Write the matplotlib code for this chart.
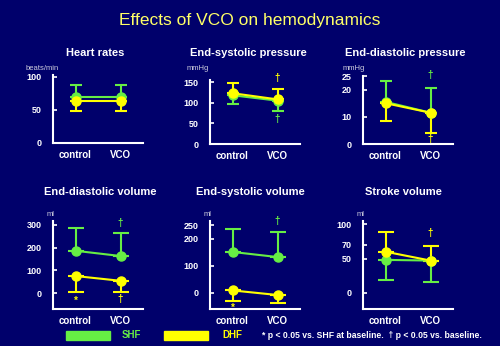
import matplotlib
matplotlib.use("Agg")
import matplotlib.pyplot as plt
import numpy as np

# ── Palette ──────────────────────────────────────────────────────────────────
C_BG     = "#00006b"
C_SHF    = "#66ee44"
C_DHF    = "#ffff00"
C_TITLE  = "#ffff66"
C_TEXT   = "white"
C_UNIT   = "#ccccdd"

plt.rcParams["font.family"] = ["Liberation Sans", "DejaVu Sans"]

W, H = 500, 346

# ── Data (mean, one-sided SD bar: + up / - down) ─────────────────────────────
groups = ["control", "VCO"]

titles = ["Heart rates", "End-systolic pressure", "End-diastolic pressure",
          "End-diastolic volume", "End-systolic volume", "Stroke volume"]
units  = ["beats/min", "mmHg", "mmHg", "ml", "ml", "ml"]

shf_mean = [[70, 70], [118, 105], [15.5, 11.5], [186, 163], [151, 132], [48, 47]]
shf_err  = [[18, 18], [-22, -24], [7.7, 9.0], [102, 102], [87, 94], [-30, -31]]
dhf_mean = [[63, 63], [123, 108], [15.0, 11.5], [75, 54], [8, -9], [60, 47]]
dhf_err  = [[-15, -14], [25, 24], [-6.5, -7.3], [-69, -48], [-39, -28], [29, 22]]

yticks = [[0, 50, 100], [0, 50, 100, 150], [0, 10, 20, 25],
          [0, 100, 200, 300], [0, 100, 200, 250], [0, 50, 70, 100]]
ylims  = [(0, 103), (0, 155), (0, 25), (-70, 317), (-61, 266), (-24, 105)]

# significance marks: (panel, group index, colour, symbol, y value)
marks = [
    (1, 1, C_DHF, "†", 160), (1, 1, C_SHF, "†", 60),
    (2, 1, C_SHF, "†", 25.5), (2, 1, C_DHF, "†", 2),
    (3, 1, C_SHF, "†", 310), (3, 0, C_DHF, "*", -35), (3, 1, C_DHF, "†", -25),
    (4, 1, C_SHF, "†", 267), (4, 0, C_DHF, "*", -55),
    (5, 1, C_DHF, "†", 88),
]

# axes boxes in pixels: x0, x1, ytop, ybottom
boxes = [(53, 143, 75, 143), (210, 300, 80, 144), (363, 453, 76, 144),
         (53, 143, 221, 309), (210, 300, 221, 309), (363, 453, 221, 309)]
title_pos = [(95, 53), (248, 53), (405, 53), (100, 192), (250, 192), (403, 192)]
unit_pos  = [(42, 68), (198, 68), (354, 68), (51, 214), (208, 214), (361, 214)]

fig = plt.figure(figsize=(W / 100, H / 100), dpi=100, facecolor=C_BG)

def px(xp, yp):
    return xp / W, 1 - yp / H

fig.text(*px(250, 20), "Effects of VCO on hemodynamics", color=C_TITLE,
         fontsize=12.5, ha="center", va="center")

x = np.arange(len(groups))
for i, (x0, x1, yt, yb) in enumerate(boxes):
    ax = fig.add_axes([x0 / W, 1 - yb / H, (x1 - x0) / W, (yb - yt) / H])
    ax.set_facecolor(C_BG)
    for sp in ["top", "right"]:
        ax.spines[sp].set_visible(False)
    for sp in ["left", "bottom"]:
        ax.spines[sp].set_color(C_TEXT)
        ax.spines[sp].set_linewidth(1.5)

    cap = 4 if i < 3 else 6
    for mean, err, col in [(shf_mean[i], shf_err[i], C_SHF),
                           (dhf_mean[i], dhf_err[i], C_DHF)]:
        err = np.array(err)
        lo = np.where(err < 0, -err, 0)
        hi = np.where(err > 0, err, 0)
        ax.errorbar(x, mean, yerr=[lo, hi], color=col, lw=1.5, marker="o",
                    ms=6.5, capsize=cap, capthick=1.5, elinewidth=1.5)

    ax.set_xlim(-0.5, 1.5)
    ax.set_ylim(*ylims[i])
    ax.set_yticks(yticks[i])
    ax.set_xticks(x)
    ax.set_xticklabels(groups)
    ax.tick_params(axis="x", length=0, pad=5, colors=C_TEXT, labelsize=7)
    ax.tick_params(axis="y", direction="in", length=3, width=1.2,
                   colors=C_TEXT, labelsize=6.5, pad=8)
    for lab in ax.get_xticklabels() + ax.get_yticklabels():
        lab.set_fontweight("bold")

    fig.text(*px(*title_pos[i]), titles[i], color=C_TEXT, fontsize=8,
             fontweight="bold", ha="center", va="center")
    fig.text(*px(*unit_pos[i]), units[i], color=C_UNIT, fontsize=5.5,
             ha="center", va="center")

    for p, g, col, sym, yv in marks:
        if p == i:
            dx = 0.22 if (p == 4 and sym == "†" and col == C_DHF) else 0
            ax.text(g + dx, yv, sym, color=col, fontsize=7, fontweight="bold",
                    ha="center", va="center", clip_on=False)

# ── Legend / footnote ────────────────────────────────────────────────────────
fig.patches.append(plt.Rectangle(px(66, 340), 44 / W, 9 / H,
                                 color=C_SHF, transform=fig.transFigure))
fig.patches.append(plt.Rectangle(px(164, 340), 44 / W, 9 / H,
                                 color=C_DHF, transform=fig.transFigure))
fig.text(*px(131, 335.5), "SHF", color=C_SHF, fontsize=7,
         fontweight="bold", ha="center", va="center")
fig.text(*px(232, 335.5), "DHF", color=C_DHF, fontsize=7,
         fontweight="bold", ha="center", va="center")
fig.text(*px(262, 335.5),
         "* p < 0.05 vs. SHF at baseline.  † p < 0.05 vs. baseline.",
         color=C_TEXT, fontsize=6.2, fontweight="bold", ha="left", va="center")

fig.savefig("out.png", dpi=100, facecolor=C_BG)
